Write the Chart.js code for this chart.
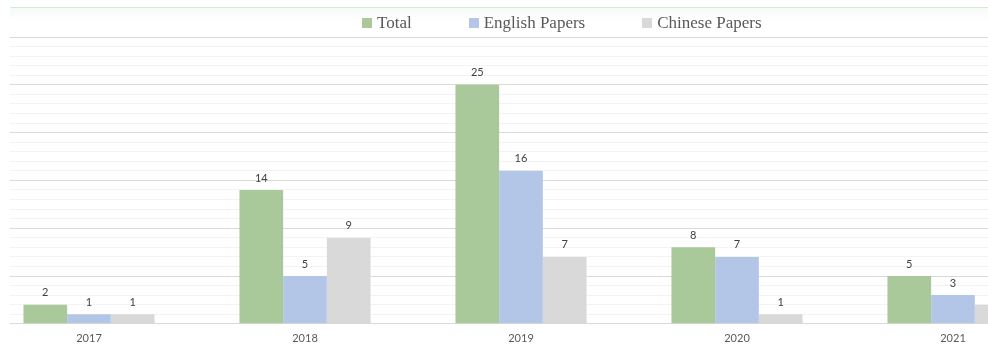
<!DOCTYPE html>
<html>
<head>
<meta charset="utf-8">
<title>Papers per year</title>
<script src="https://cdn.jsdelivr.net/npm/chart.js@4.4.1/dist/chart.umd.min.js"></script>
<style>
  html, body { margin: 0; padding: 0; background: #fff; }
  body { width: 988px; height: 347px; position: relative; overflow: hidden; }
  .frame-top {
    position: absolute; left: 10px; top: 7px; width: 978px; height: 13px;
    border-top: 1px solid #d4ead2;
    background: linear-gradient(#f6fbf7, #ffffff);
  }
  .frame { position: absolute; left: 10px; top: 0; width: 978px; height: 347px; overflow: hidden; }
  .chart-box { position: absolute; left: -29px; top: 0; }
  .legend {
    position: absolute; left: 362px; top: 13px; display: flex; gap: 57px;
    font: 17px "Liberation Serif", serif; color: #595959; line-height: 20px;
  }
  .legend .item { display: flex; align-items: center; white-space: nowrap; }
  .legend .key { display: inline-block; width: 10px; height: 10px; margin-right: 5px; }
</style>
</head>
<body>
<div class="frame-top"></div>
<div class="frame">
  <div class="chart-box"><canvas id="papers" width="1080" height="355"></canvas></div>
</div>
<div class="legend" id="legend"></div>

<script>
const years = ['2017', '2018', '2019', '2020', '2021'];
const seriesNames = ['Total', 'English Papers', 'Chinese Papers'];
const totalPapers = [2, 14, 25, 8, 5];
const englishPapers = [1, 5, 16, 7, 3];
const chinesePapers = [1, 9, 7, 1, 2];
const barColors = ['#a9c99a', '#b4c6e7', '#d9d9d9'];

// numbers above each bar
const valueLabels = {
  id: 'valueLabels',
  afterDatasetsDraw(chart) {
    const ctx = chart.ctx;
    ctx.save();
    ctx.font = '11px Lato';
    ctx.fillStyle = '#404040';
    ctx.textAlign = 'center';
    ctx.textBaseline = 'middle';
    chart.data.datasets.forEach((ds, i) => {
      chart.getDatasetMeta(i).data.forEach((bar, j) => {
        ctx.fillText(ds.data[j], bar.x, bar.y - 12);
      });
    });
    ctx.restore();
  }
};

const seriesData = [totalPapers, englishPapers, chinesePapers];

const chart = new Chart(document.getElementById('papers'), {
  type: 'bar',
  data: {
    labels: years,
    datasets: seriesNames.map((name, i) => ({
      label: name,
      data: seriesData[i],
      backgroundColor: barColors[i],
      categoryPercentage: 0.607,
      barPercentage: 1
    }))
  },
  options: {
    responsive: false,
    animation: false,
    layout: { padding: { top: 37, bottom: 2, left: 0, right: 0 } },
    plugins: {
      legend: { display: false },
      tooltip: { enabled: false }
    },
    scales: {
      x: {
        grid: { display: false, drawTicks: false },
        border: { display: false },
        ticks: { padding: 8, color: '#595959', font: { family: 'Lato', size: 11 } }
      },
      y: {
        min: 0,
        max: 30,
        ticks: { display: false, stepSize: 1 },
        border: { display: false },
        grid: {
          drawTicks: false,
          color: c => (c.tick.value % 5 === 0 ? '#d9d9d9' : '#f3f3f3')
        },
        afterFit: scale => { scale.width = 0; }
      }
    }
  },
  plugins: [valueLabels]
});

// legend in html, built from the same series
const legendEl = document.getElementById('legend');
seriesNames.forEach((name, i) => {
  const item = document.createElement('div');
  item.className = 'item';
  const key = document.createElement('span');
  key.className = 'key';
  key.style.background = barColors[i];
  item.appendChild(key);
  item.appendChild(document.createTextNode(name));
  legendEl.appendChild(item);
});
</script>
</body>
</html>
